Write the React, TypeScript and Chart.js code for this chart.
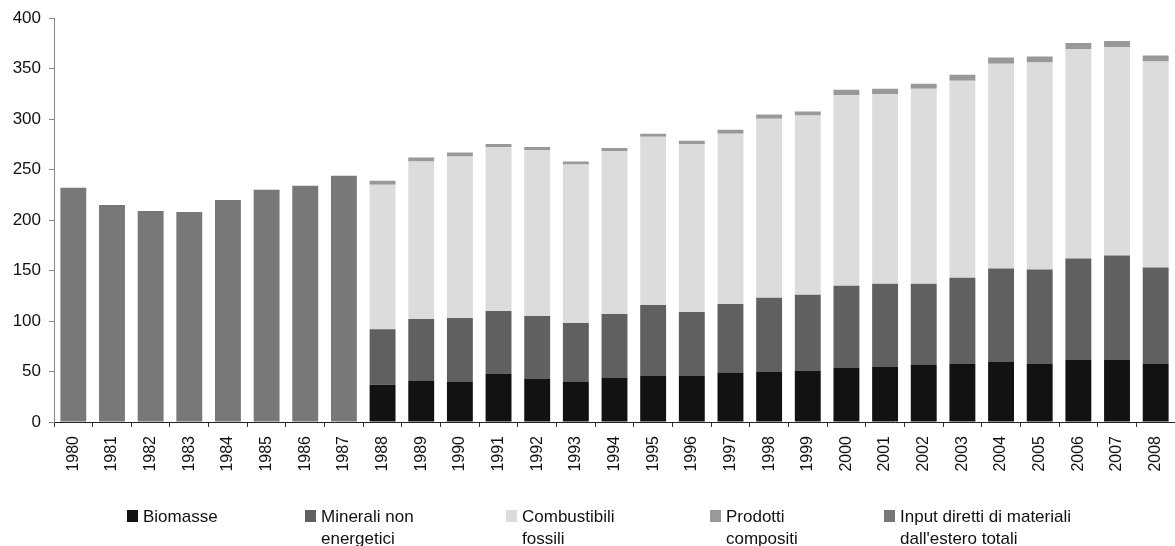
import React, { useEffect, useRef } from "react";
import { Chart, registerables } from "chart.js";

Chart.register(...registerables);

const years = [
  "1980", "1981", "1982", "1983", "1984", "1985", "1986", "1987", "1988", "1989",
  "1990", "1991", "1992", "1993", "1994", "1995", "1996", "1997", "1998", "1999",
  "2000", "2001", "2002", "2003", "2004", "2005", "2006", "2007", "2008",
];

const N = null;
const biomasse = [N, N, N, N, N, N, N, N, 37, 41, 40, 48, 43, 40, 44, 46, 46, 49, 50, 51, 54, 55, 57, 58, 60, 58, 62, 62, 58];
const mineraliNonEnergetici = [N, N, N, N, N, N, N, N, 55, 61, 63, 62, 62, 58, 63, 70, 63, 68, 73, 75, 81, 82, 80, 85, 92, 93, 100, 103, 95];
const combustibiliFossili = [N, N, N, N, N, N, N, N, 143, 156, 160, 162.5, 164.5, 157, 161.5, 166.5, 166.5, 168.5, 177.5, 177.5, 189, 188, 193, 195, 203, 205, 207.5, 206.5, 204];
const prodottiCompositi = [N, N, N, N, N, N, N, N, 4, 4, 4, 3, 3, 3, 3, 3, 3, 4, 4, 4, 5, 5, 5, 6, 6, 6, 6, 6, 6];
const inputTotali = [232, 215, 209, 208, 220, 230, 234, 244, N, N, N, N, N, N, N, N, N, N, N, N, N, N, N, N, N, N, N, N, N];

const yTicks = [0, 50, 100, 150, 200, 250, 300, 350, 400];

const seriesNames = [
  ["Biomasse"],
  ["Minerali non", "energetici"],
  ["Combustibili", "fossili"],
  ["Prodotti", "compositi"],
  ["Input diretti di materiali", "dall'estero totali"],
];
const seriesColors = ["#121212", "#606060", "#dcdcdc", "#999999", "#787878"];
const legendX = [127, 305, 506, 710, 884];

const FONT = "'Liberation Sans', Arial, Helvetica, sans-serif";

const legendPlugin = {
  id: "customLegend",
  afterDraw(chart: any) {
    const ctx = chart.ctx;
    ctx.save();
    ctx.font = `17px ${FONT}`;
    ctx.textBaseline = "alphabetic";
    ctx.textAlign = "left";
    seriesNames.forEach((lines, i) => {
      const x = legendX[i];
      ctx.fillStyle = seriesColors[i];
      ctx.fillRect(x, 510, 11, 12);
      ctx.fillStyle = "#111111";
      lines.forEach((line, j) => {
        ctx.fillText(line, x + 16, 522 + j * 22);
      });
    });
    ctx.restore();
  },
};

export default function App() {
  const canvasRef = useRef<HTMLCanvasElement | null>(null);

  useEffect(() => {
    if (!canvasRef.current) return;
    const datasets = [
      biomasse,
      mineraliNonEnergetici,
      combustibiliFossili,
      prodottiCompositi,
      inputTotali,
    ].map((data, i) => ({
      label: seriesNames[i].join(" "),
      data,
      backgroundColor: seriesColors[i],
      borderWidth: 0,
      barPercentage: 0.67,
      categoryPercentage: 1.0,
      stack: "s",
    }));

    const chart = new Chart(canvasRef.current, {
      type: "bar",
      data: { labels: years, datasets },
      plugins: [legendPlugin],
      options: {
        animation: false,
        responsive: false,
        maintainAspectRatio: false,
        layout: { padding: { top: 18, right: 0, left: 0, bottom: 0 } },
        plugins: {
          legend: { display: false },
          tooltip: { enabled: false },
        },
        scales: {
          x: {
            stacked: true,
            afterFit: (scale: any) => {
              scale.height = 124;
              scale.paddingLeft = 0;
              scale.paddingRight = 0;
            },
            grid: {
              offset: true,
              drawOnChartArea: false,
              drawTicks: true,
              tickLength: 5,
              color: "#333333",
            },
            border: { display: true, color: "#222222", width: 1 },
            ticks: {
              autoSkip: false,
              maxRotation: 90,
              minRotation: 90,
              padding: 9,
              color: "#111111",
              font: { family: FONT, size: 16 },
            },
          },
          y: {
            stacked: true,
            min: 0,
            max: 400,
            afterFit: (scale: any) => {
              scale.width = 54;
            },
            afterBuildTicks: (scale: any) => {
              scale.ticks = yTicks.map((v) => ({ value: v }));
            },
            grid: {
              drawOnChartArea: false,
              drawTicks: true,
              tickLength: 5,
              color: "#888888",
            },
            border: { display: true, color: "#888888", width: 1 },
            ticks: {
              padding: 8,
              color: "#111111",
              font: { family: FONT, size: 17 },
            },
          },
        },
      },
    });
    return () => chart.destroy();
  }, []);

  return (
    <div style={{ position: "absolute", left: 0, top: 0, width: 1175, height: 546, background: "#fff" }}>
      <canvas ref={canvasRef} width={1175} height={546} style={{ display: "block", width: 1175, height: 546 }} />
    </div>
  );
}
